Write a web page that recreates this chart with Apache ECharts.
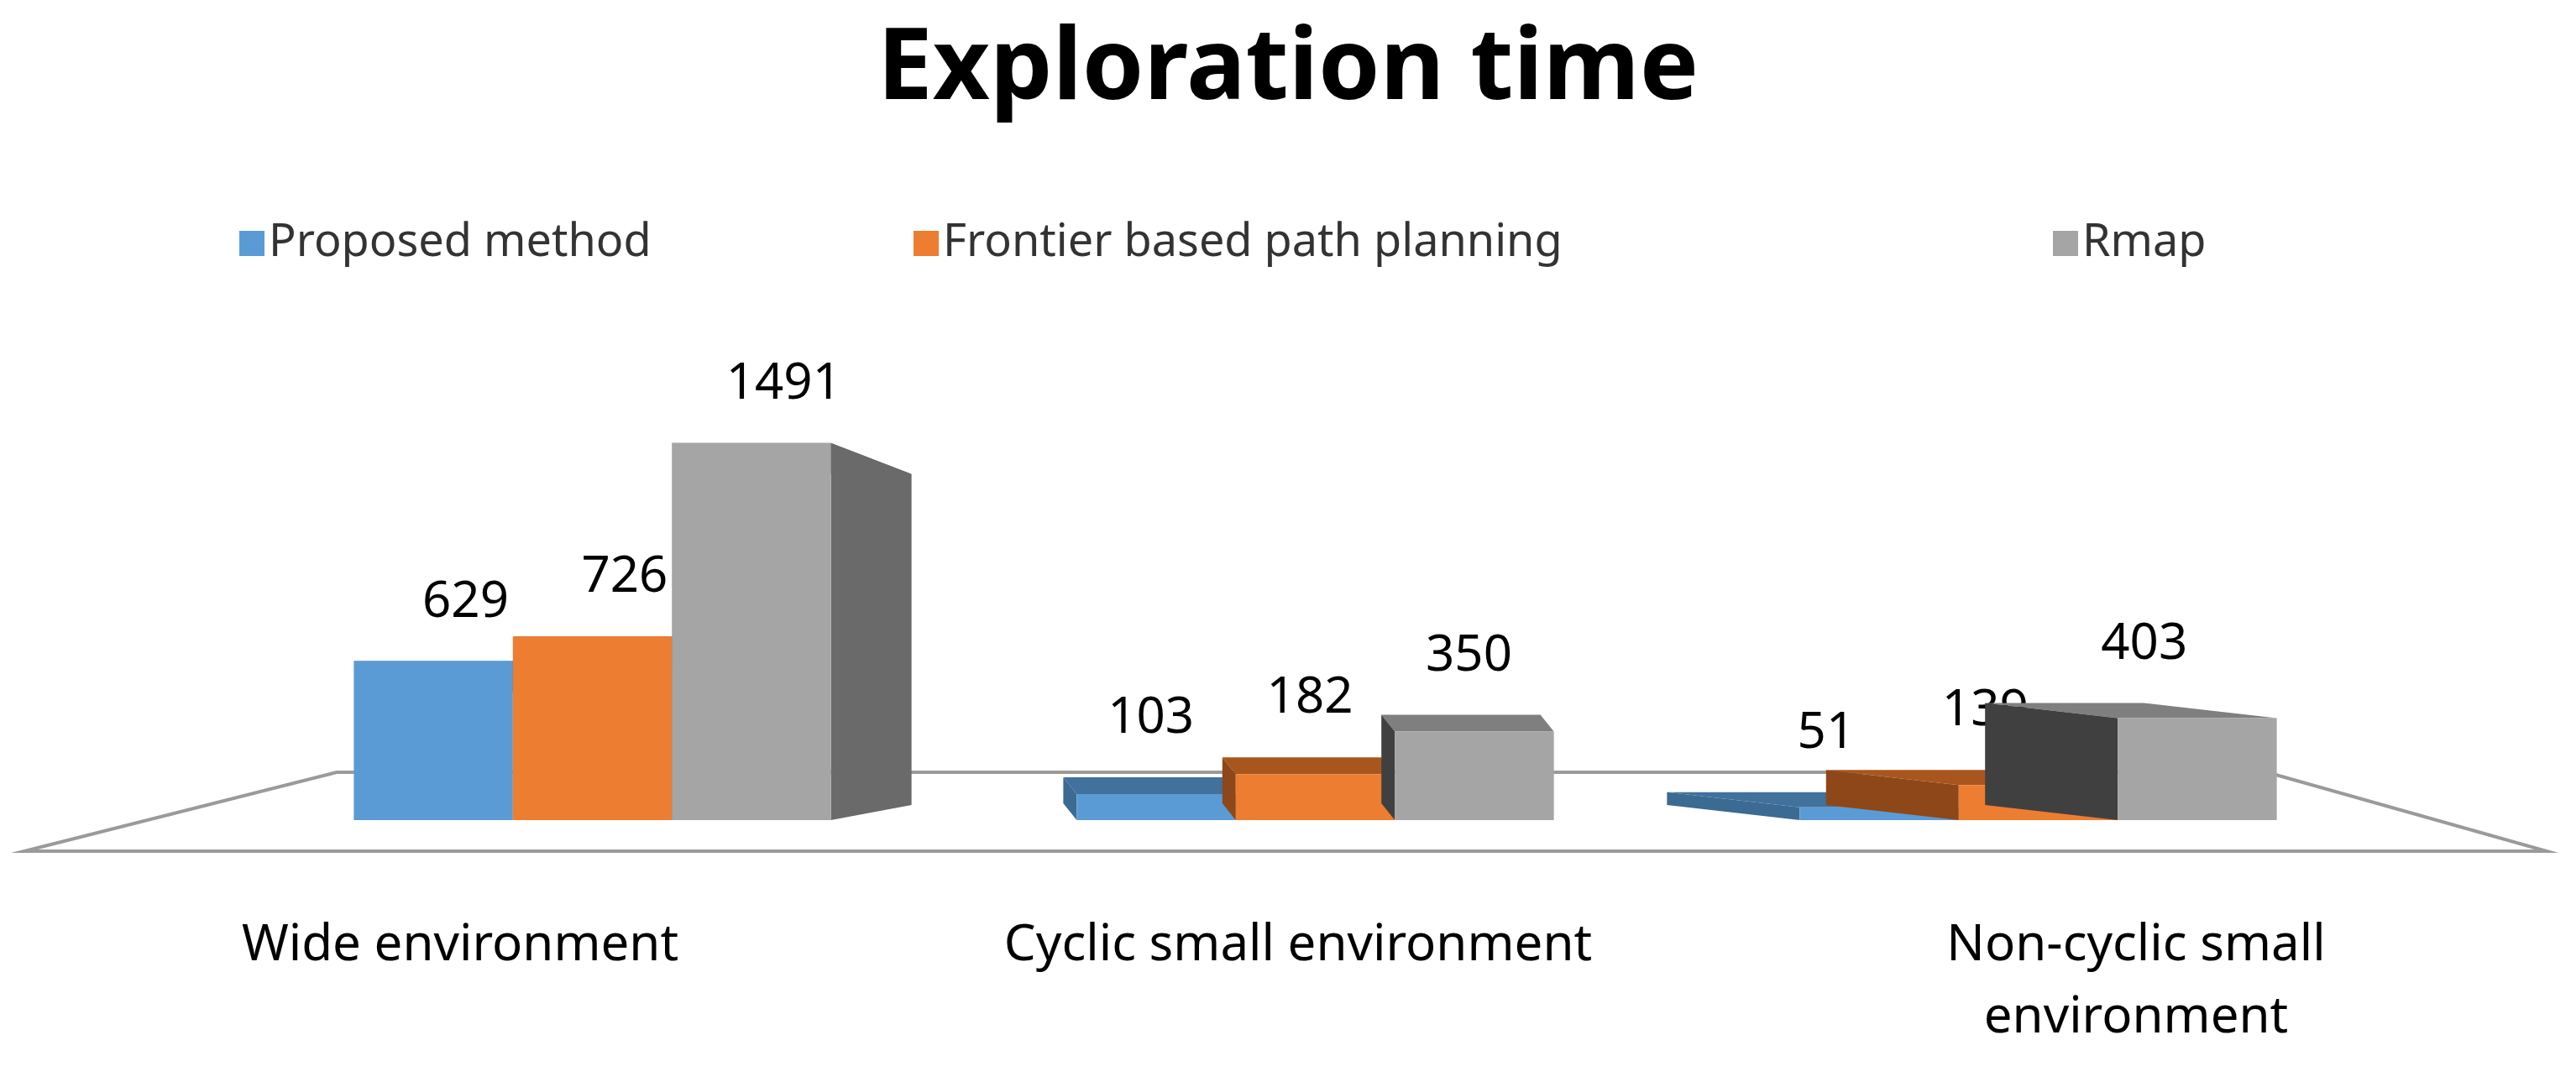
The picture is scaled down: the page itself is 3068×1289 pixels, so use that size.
<!DOCTYPE html>
<html>
<head>
<meta charset="utf-8">
<script src="https://cdn.jsdelivr.net/npm/echarts@6/dist/echarts.min.js"></script>
<style>html,body{margin:0;padding:0;background:#fff}#main{width:3068px;height:1289px}</style>
</head>
<body>
<div id="main"></div>
<script>
var categories = ['Wide environment', 'Cyclic small environment', 'Non-cyclic small\nenvironment'];
var seriesNames = ['Proposed method', 'Frontier based path planning', 'Rmap'];
var proposed = [629, 103, 51];
var frontier = [726, 182, 139];
var rmap = [1491, 350, 403];

var faceColors = ['#5B9BD5', '#ED7D31', '#A5A5A5'];
var topColors = ['#41719C', '#A9561E', '#7F7F7F'];
var sideColors = ['#3B6A93', '#8E4718', '#6A6A6A'];
// depth vector per category (perspective look)
var depth = [[96, 37], [-16, -20], [-158, -18]];

var chart = echarts.init(document.getElementById('main'));

function renderBar(sIdx) {
    return function (params, api) {
        var cat = api.value(0);
        var val = api.value(1);
        var bandW = api.size([1, 0])[0];
        var barW = bandW * 0.22;
        var center = api.coord([cat, 0])[0];
        var x0 = center + (sIdx - 1.5) * barW;
        var x1 = x0 + barW;
        var yb = api.coord([cat, 0])[1];
        var yt = api.coord([cat, val])[1];
        var d = depth[cat];
        var children = [];
        // back top/side faces
        children.push({type: 'polygon', shape: {points: [[x0, yt], [x1, yt], [x1 + d[0], yt + d[1]], [x0 + d[0], yt + d[1]]]},
            style: {fill: topColors[sIdx]}});
        if (d[0] > 0) {
            children.push({type: 'polygon', shape: {points: [[x1, yt], [x1 + d[0], yt + d[1]], [x1 + d[0], yb + d[1] * 0.0 - 18], [x1, yb]]},
                style: {fill: sideColors[sIdx]}});
        } else {
            children.push({type: 'polygon', shape: {points: [[x0, yt], [x0 + d[0], yt + d[1]], [x0 + d[0], Math.min(yb, yt + d[1] + (yb - yt))], [x0, yb]]},
                style: {fill: sIdx === 2 ? '#404040' : sideColors[sIdx]}});
        }
        children.push({type: 'rect', shape: {x: x0, y: yt, width: barW, height: yb - yt},
            style: {fill: faceColors[sIdx]}});
        children.push({type: 'text', style: {text: String(val), x: (x0 + x1) / 2 + d[0] * 0.4, y: Math.min(yt, yt + d[1]) - 40,
            align: 'center', verticalAlign: 'bottom', fill: '#000', font: '60px "Noto Sans", sans-serif'}});
        return {type: 'group', children: children};
    };
}

var seriesData = [proposed, frontier, rmap];
var series = seriesData.map(function (arr, i) {
    return {
        type: 'custom',
        name: seriesNames[i],
        xAxisIndex: 0, yAxisIndex: 0,
        itemStyle: {color: faceColors[i]},
        renderItem: renderBar(i),
        data: arr.map(function (v, k) { return [k, v]; }),
        z: 3 + i
    };
});

chart.setOption({
    animation: false,
    title: {text: 'Exploration time', left: 'center', top: 20,
        textStyle: {fontFamily: 'Noto Sans', fontWeight: 'bold', fontSize: 118, color: '#000'}},
    legend: [
        {data: [seriesNames[0]], left: 280, top: 258},
        {data: [seriesNames[1]], left: 1083, top: 258},
        {data: [seriesNames[2]], left: 2440, top: 258}
    ].map(function (l) {
        l.icon = 'rect'; l.itemWidth = 30; l.itemHeight = 30; l.itemGap = 30;
        l.textStyle = {fontFamily: 'Noto Sans', fontSize: 54, color: '#333'};
        return l;
    }),
    graphic: [{type: 'polygon', z: 0, shape: {points: [[29, 1014], [3033, 1014], [2700, 920], [401, 920]]},
        style: {fill: '#fff', stroke: '#9a9a9a', lineWidth: 4}}],
    grid: [
        {left: 275, right: 210, top: 495, bottom: 1289 - 977},
        {left: 49, right: 25, top: 1000, bottom: 1289 - 1080}
    ],
    xAxis: [
        {type: 'category', data: categories, gridIndex: 0, show: false},
        {type: 'category', data: categories, gridIndex: 1, axisLine: {show: false}, axisTick: {show: false},
            axisLabel: {fontFamily: 'Noto Sans', fontSize: 60, color: '#000', margin: 4, lineHeight: 86}}
    ],
    yAxis: [
        {type: 'value', min: 0, max: 1600, gridIndex: 0, show: false},
        {type: 'value', gridIndex: 1, show: false}
    ],
    series: series
});
</script>
</body>
</html>
